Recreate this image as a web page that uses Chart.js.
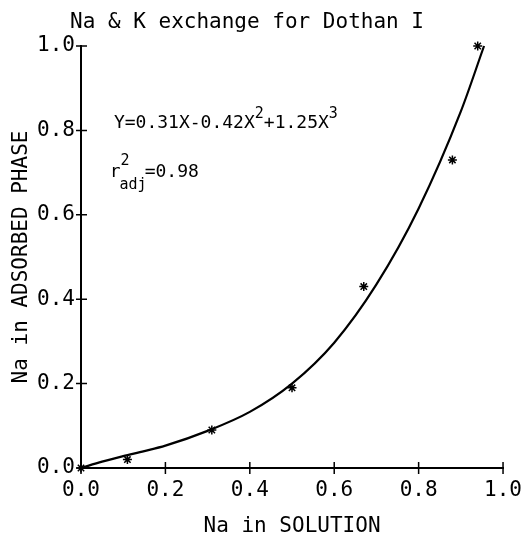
<!DOCTYPE html>
<html>
<head>
<meta charset="utf-8">
<script src="https://cdn.jsdelivr.net/npm/chart.js@4/dist/chart.umd.min.js"></script>
<style>
  html, body { margin: 0; padding: 0; background: #fff; }
  #wrap { width: 532px; height: 543px; }
</style>
</head>
<body>
<div id="wrap"><canvas id="naChart" width="532" height="543"></canvas></div>
<script>
// measured points (asterisks)
const naSolution = [0, 0.11, 0.31, 0.50, 0.67, 0.88, 0.94];
const naAdsorbed = [0, 0.02, 0.09, 0.19, 0.43, 0.73, 1.00];

// fitted curve
const curveX = [0, 0.05, 0.1, 0.15, 0.2, 0.3, 0.4, 0.5, 0.6, 0.7, 0.8, 0.9, 0.955];
const curveY = [0, 0.015, 0.028, 0.04, 0.053, 0.088, 0.133, 0.20, 0.297, 0.435, 0.615, 0.845, 1.0];

const xTicks = [0, 0.2, 0.4, 0.6, 0.8, 1.0];
const yTicks = [0, 0.2, 0.4, 0.6, 0.8, 1.0];

const chartTitle = 'Na & K exchange for Dothan I';
const xTitle = 'Na in SOLUTION';
const yTitle = 'Na in ADSORBED PHASE';

const MONO = '"DejaVu Sans Mono", "Liberation Mono", monospace';

// tick marks that cross the axis line, like the plotter drew them
const crossTicks = {
  id: 'crossTicks',
  afterDraw(chart) {
    const ctx = chart.ctx;
    const xs = chart.scales.x, ys = chart.scales.y;
    const x0 = chart.chartArea.left, y0 = chart.chartArea.bottom;
    ctx.save();
    ctx.strokeStyle = '#000';
    ctx.lineWidth = 1.5;
    ctx.beginPath();
    yTicks.forEach(v => {
      const py = ys.getPixelForValue(v);
      ctx.moveTo(x0 - 5, py); ctx.lineTo(x0 + 6, py);
    });
    xTicks.forEach(v => {
      const px = xs.getPixelForValue(v);
      ctx.moveTo(px, y0 - 6); ctx.lineTo(px, y0 + 6);
    });
    ctx.stroke();
    ctx.restore();
  }
};

// title and the equation text
const textBits = {
  id: 'textBits',
  afterDraw(chart) {
    const ctx = chart.ctx;
    const xs = chart.scales.x, ys = chart.scales.y;
    ctx.save();
    ctx.fillStyle = '#000';
    ctx.textBaseline = 'alphabetic';
    ctx.textAlign = 'center';
    ctx.font = '21px ' + MONO;
    ctx.fillText(chartTitle, 247, 28);

    ctx.textAlign = 'left';
    let x = xs.getPixelForValue(0.078);
    let y = ys.getPixelForValue(0.805);
    const big = '18px ' + MONO, small = '15px ' + MONO;
    const parts = [['Y=0.31X-0.42X', big, 0], ['2', small, -10], ['+1.25X', big, 0], ['3', small, -10]];
    parts.forEach(([t, f, dy]) => {
      ctx.font = f;
      ctx.fillText(t, x, y + dy);
      x += ctx.measureText(t).width;
    });

    x = xs.getPixelForValue(0.068);
    y = ys.getPixelForValue(0.69);
    ctx.font = big;
    ctx.fillText('r', x, y);
    const rw = ctx.measureText('r').width;
    ctx.font = small;
    ctx.fillText('2', x + rw, y - 12);
    ctx.fillText('adj', x + rw - 1, y + 12);
    const aw = ctx.measureText('adj').width;
    ctx.font = big;
    ctx.fillText('=0.98', x + rw + aw - 3, y);
    ctx.restore();
  }
};

const ctx = document.getElementById('naChart').getContext('2d');

new Chart(ctx, {
  type: 'scatter',
  data: {
    datasets: [
      {
        label: 'fit',
        data: curveX.map((v, i) => ({ x: v, y: curveY[i] })),
        showLine: true,
        borderColor: '#000',
        borderWidth: 2.2,
        pointRadius: 0,
        cubicInterpolationMode: 'monotone',
        clip: false
      },
      {
        label: 'observed',
        data: naSolution.map((v, i) => ({ x: v, y: naAdsorbed[i] })),
        pointStyle: 'star',
        pointRadius: 4.5,
        borderColor: '#000',
        backgroundColor: '#000',
        borderWidth: 1.5,
        clip: false
      }
    ]
  },
  options: {
    responsive: false,
    animation: false,
    layout: { padding: { top: 46, right: 20, left: 0, bottom: 0 } },
    plugins: {
      legend: { display: false },
      title: { display: false },
      tooltip: { enabled: false }
    },
    scales: {
      x: {
        type: 'linear',
        min: 0, max: 1,
        afterFit: s => { s.height = 75; },
        afterBuildTicks: s => { s.ticks = xTicks.map(v => ({ value: v })); },
        grid: { display: false, drawTicks: false },
        border: { display: true, color: '#000', width: 2 },
        ticks: {
          color: '#000',
          padding: 10,
          font: { family: MONO, size: 21 },
          callback: v => v.toFixed(1)
        },
        title: {
          display: true, text: xTitle, color: '#000',
          font: { family: MONO, size: 21 },
          padding: { top: 0, bottom: 4 }
        }
      },
      y: {
        type: 'linear',
        min: 0, max: 1,
        afterFit: s => { s.width = 81; },
        afterBuildTicks: s => { s.ticks = yTicks.map(v => ({ value: v })); },
        grid: { display: false, drawTicks: false },
        border: { display: true, color: '#000', width: 2 },
        ticks: {
          color: '#000',
          padding: 6,
          font: { family: MONO, size: 21 },
          callback: v => v.toFixed(1)
        },
        title: {
          display: true, text: yTitle, color: '#000',
          font: { family: MONO, size: 21 },
          padding: { top: 9, bottom: 0 }
        }
      }
    }
  },
  plugins: [crossTicks, textBits]
});
</script>
</body>
</html>
